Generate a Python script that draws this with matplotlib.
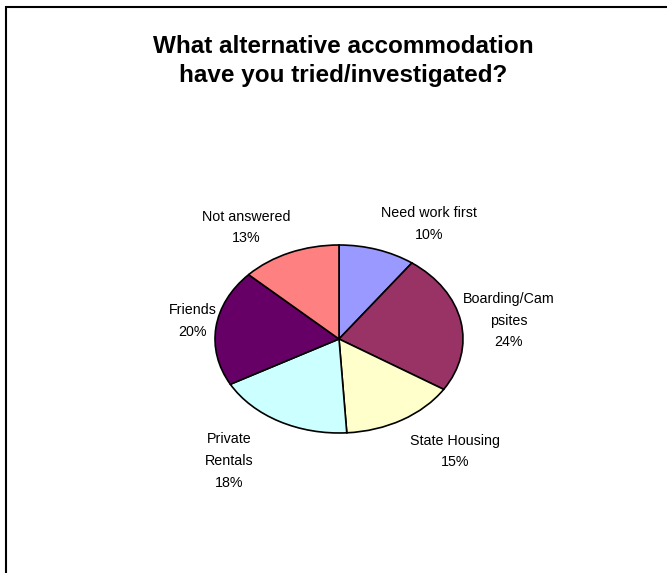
import numpy as np
import matplotlib
matplotlib.use("Agg")
import matplotlib.pyplot as plt
from matplotlib.patches import Rectangle

plt.rcParams['font.family'] = ['Liberation Sans', 'DejaVu Sans']

# data
categories = ['Need work first', 'Boarding/Campsites', 'State Housing',
              'Private Rentals', 'Friends', 'Not answered']
label_text = ['Need work first', 'Boarding/Cam\npsites', 'State Housing',
              'Private\nRentals', 'Friends', 'Not answered']
percent = [10, 24, 15, 18, 20, 13]
colors = ['#9999FF', '#993366', '#FFFFCC', '#CCFFFF', '#660066', '#FF8080']

# small label nudges (points) to mimic Excel placement
nudge = [(0, -1), (-2, 0), (1, -4), (-14, -2), (4, 4), (4, -1)]

W, H = 667, 573
fig = plt.figure(figsize=(W / 100, H / 100), dpi=100)

# pie box in pixels (left, top, right, bottom)
l, t, r, b = 215, 245, 463, 433
ax = fig.add_axes([l / W, 1 - b / H, (r - l) / W, (b - t) / H])

wedges, _ = ax.pie(percent, colors=colors, startangle=90, counterclock=False,
                   wedgeprops=dict(edgecolor='black', linewidth=1.2))
ax.set_aspect('auto')
ax.set_xlim(-1, 1)
ax.set_ylim(-1, 1)
ax.axis('off')

# labels outside each wedge
for w, txt, p, (dx, dy) in zip(wedges, label_text, percent, nudge):
    mid = np.deg2rad((w.theta1 + w.theta2) / 2)
    c, s = np.cos(mid), np.sin(mid)
    dist = 1.1
    ha = 'left' if c > 0.15 else ('right' if c < -0.15 else 'center')
    if abs(s) < 0.4:
        va = 'center'
        dist = 1.04
    else:
        va = 'bottom' if s > 0 else 'top'
    ax.annotate(f'{txt}\n{p}%', (dist * c, dist * s), xytext=(dx, dy),
                textcoords='offset points', ha=ha, va=va,
                multialignment='center', fontsize=10.3, linespacing=1.7,
                annotation_clip=False)

fig.text(0.514, 1 - 61 / H, 'What alternative accommodation\nhave you tried/investigated?',
         ha='center', va='center', fontsize=17.5, fontweight='bold', linespacing=1.3)

# outer frame (only top and left visible)
fig.add_artist(Rectangle((6 / W, -0.05), 1.0, 1 - 6.5 / H + 0.05,
                         transform=fig.transFigure, fill=False,
                         edgecolor='black', linewidth=1.5))

fig.savefig('out.png', dpi=100)
